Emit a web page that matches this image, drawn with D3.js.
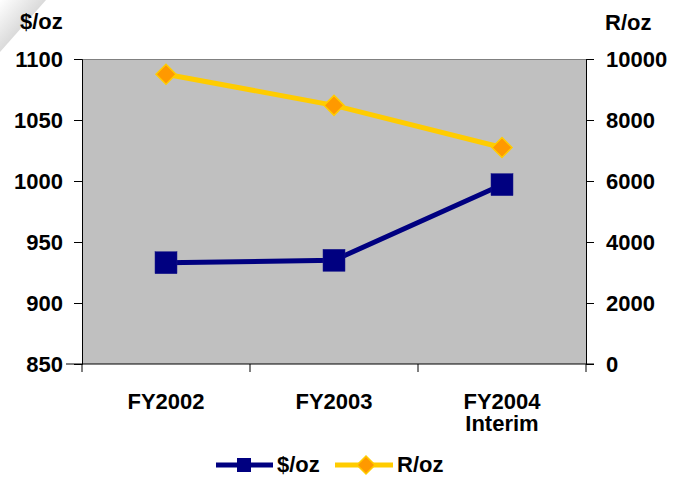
<!DOCTYPE html>
<html>
<head>
<meta charset="utf-8">
<script src="https://cdn.jsdelivr.net/npm/d3@7"></script>
<style>
  html, body { margin: 0; padding: 0; background: #fff; }
  svg { display: block; font-family: "Liberation Sans", Arial, sans-serif; font-weight: bold; }
</style>
</head>
<body>
<svg id="chart" width="675" height="479"></svg>
<script>
// Gold price per ounce, in dollars and in rand
const categories = ["FY2002", "FY2003", "FY2004\nInterim"];
const usdPerOz = [933, 935, 997];
const randPerOz = [9500, 8480, 7100];
const leftTicks = [850, 900, 950, 1000, 1050, 1100];
const rightTicks = [0, 2000, 4000, 6000, 8000, 10000];

const FS = 22;
const svg = d3.select("#chart");
const plot = { left: 82, right: 586, top: 59, bottom: 364 };

// soft page-corner shading at the top left
const defs = svg.append("defs");
const grad = defs.append("linearGradient").attr("id", "corner")
  .attr("x1", "0").attr("y1", "0").attr("x2", "1").attr("y2", "1");
grad.append("stop").attr("offset", "0%").attr("stop-color", "#ffffff");
grad.append("stop").attr("offset", "75%").attr("stop-color", "#c8c8c8");
grad.append("stop").attr("offset", "100%").attr("stop-color", "#b8b8b8");
svg.append("path").attr("d", "M0,0 L46,0 L0,52 Z").attr("fill", "url(#corner)");

const x = d3.scaleBand().domain(categories).range([plot.left, plot.right]);
const yL = d3.scaleLinear().domain([850, 1100]).range([plot.bottom, plot.top]);
const yR = d3.scaleLinear().domain([0, 10000]).range([plot.bottom, plot.top]);

// plot background
svg.append("rect")
  .attr("x", plot.left).attr("y", plot.top)
  .attr("width", plot.right - plot.left).attr("height", plot.bottom - plot.top)
  .attr("fill", "#c0c0c0");
svg.append("line")
  .attr("x1", plot.left).attr("x2", plot.right)
  .attr("y1", plot.top + 0.5).attr("y2", plot.top + 0.5)
  .attr("stroke", "#808080").attr("stroke-width", 1);

// left axis
const gL = svg.append("g").attr("transform", `translate(${plot.left},0)`)
  .call(d3.axisLeft(yL).tickValues(leftTicks).tickFormat(d3.format("d")).tickSize(8).tickPadding(11));
// right axis
const gR = svg.append("g").attr("transform", `translate(${plot.right},0)`)
  .call(d3.axisRight(yR).tickValues(rightTicks).tickFormat(d3.format("d")).tickSize(8).tickPadding(12));
// bottom axis: ticks on band edges
const gB = svg.append("g").attr("transform", `translate(0,${plot.bottom})`);
gB.append("line").attr("x1", plot.left - 16).attr("x2", plot.right + 8)
  .attr("y1", 0).attr("y2", 0).attr("stroke", "#000");
const edges = categories.map(c => x(c)).concat([plot.right]);
gB.selectAll("line.edge").data(edges).join("line").attr("class", "edge")
  .attr("x1", d => d).attr("x2", d => d).attr("y1", 0).attr("y2", 8)
  .attr("stroke", "#000");

[gL, gR].forEach(g => {
  g.select(".domain").attr("stroke", "#000");
  g.selectAll(".tick line").attr("stroke", "#000");
  g.selectAll("text").attr("font-size", FS).attr("font-weight", "bold")
    .attr("font-family", "'Liberation Sans', Arial, sans-serif").attr("fill", "#000");
});

// category labels, one text per line
const catLines = categories.flatMap(c => c.split("\n").map((line, i) => ({ c, line, i })));
svg.append("g").selectAll("text").data(catLines).join("text")
  .attr("x", d => x(d.c) + x.bandwidth() / 2)
  .attr("y", d => 409 + d.i * 22)
  .attr("text-anchor", "middle")
  .attr("font-size", FS)
  .attr("fill", "#000")
  .text(d => d.line);

// axis titles
svg.append("text").attr("x", 20).attr("y", 29).attr("font-size", FS).text("$/oz");
svg.append("text").attr("x", 605).attr("y", 30).attr("font-size", FS).text("R/oz");

const cx = d => x(d) + x.bandwidth() / 2;
const diamond = (px, py, r) => `M${px},${py - r} L${px + r},${py} L${px},${py + r} L${px - r},${py} Z`;

// R/oz series
const lineR = d3.line().x((d, i) => cx(categories[i])).y(d => yR(d));
svg.append("path").datum(randPerOz).attr("d", lineR)
  .attr("fill", "none").attr("stroke", "#ffcc00").attr("stroke-width", 5);
svg.append("g").selectAll("path").data(randPerOz).join("path")
  .attr("d", (d, i) => diamond(cx(categories[i]), yR(d), 10))
  .attr("fill", "#ff9900").attr("stroke", "#ffcc00").attr("stroke-width", 1.5);

// $/oz series
const lineL = d3.line().x((d, i) => cx(categories[i])).y(d => yL(d));
svg.append("path").datum(usdPerOz).attr("d", lineL)
  .attr("fill", "none").attr("stroke", "#000080").attr("stroke-width", 5);
svg.append("g").selectAll("rect").data(usdPerOz).join("rect")
  .attr("x", (d, i) => cx(categories[i]) - 11).attr("y", d => yL(d) - 11)
  .attr("width", 22).attr("height", 22)
  .attr("fill", "#000080").attr("stroke", "#1a1a8a").attr("stroke-width", 0.5);

// legend
const lg = svg.append("g");
lg.append("line").attr("x1", 216).attr("x2", 273).attr("y1", 465).attr("y2", 465)
  .attr("stroke", "#000080").attr("stroke-width", 5);
lg.append("rect").attr("x", 237).attr("y", 458).attr("width", 14).attr("height", 14).attr("fill", "#000080");
lg.append("text").attr("x", 277).attr("y", 472).attr("font-size", FS).text("$/oz");
lg.append("line").attr("x1", 335).attr("x2", 393).attr("y1", 465).attr("y2", 465)
  .attr("stroke", "#ffcc00").attr("stroke-width", 5);
lg.append("path").attr("d", diamond(366, 465, 9)).attr("fill", "#ff9900").attr("stroke", "#ffcc00").attr("stroke-width", 1.5);
lg.append("text").attr("x", 397).attr("y", 472).attr("font-size", FS).text("R/oz");
</script>
</body>
</html>
